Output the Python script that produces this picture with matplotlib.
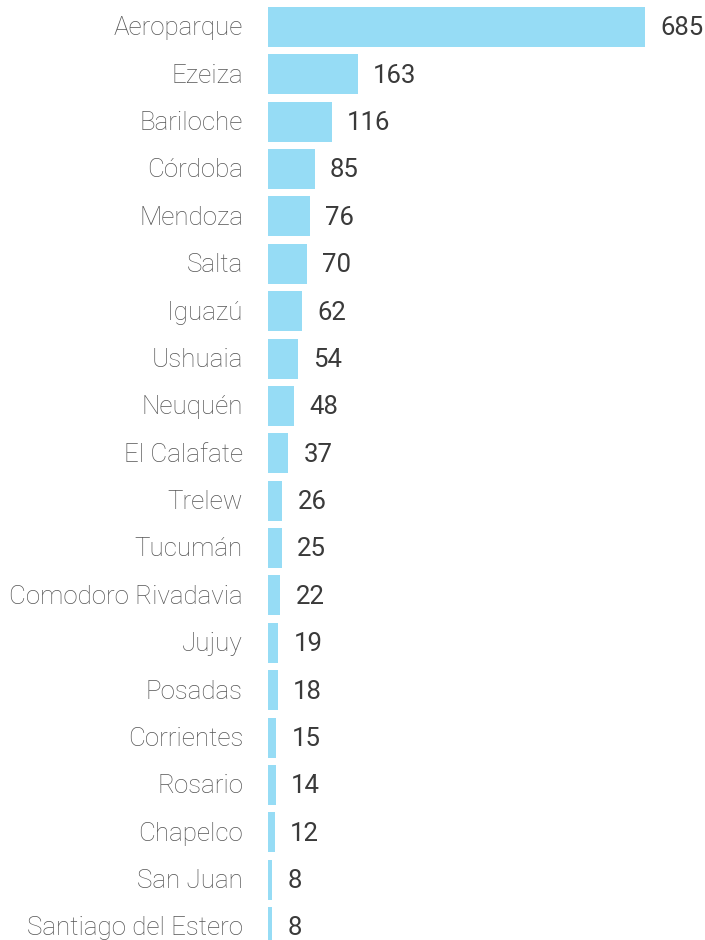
import matplotlib
matplotlib.use("Agg")
import matplotlib.pyplot as plt

airports = ["Aeroparque", "Ezeiza", "Bariloche", "Córdoba", "Mendoza", "Salta",
            "Iguazú", "Ushuaia", "Neuquén", "El Calafate", "Trelew", "Tucumán",
            "Comodoro Rivadavia", "Jujuy", "Posadas", "Corrientes", "Rosario",
            "Chapelco", "San Juan", "Santiago del Estero"]
counts = [685, 163, 116, 85, 76, 70, 62, 54, 48, 37, 26, 25, 22, 19, 18, 15, 14, 12, 8, 8]

plt.rcParams['font.family'] = ['Roboto', 'DejaVu Sans']

fig = plt.figure(figsize=(7.05, 9.4), dpi=100)
# axes starts where the bars start, labels sit to the left of it
ax = fig.add_axes([268 / 705, 0, 437 / 705, 1])

ypos = list(range(len(airports)))
ax.barh(ypos, counts, height=0.845, color='#96dcf5', edgecolor='none')

ax.set_xlim(0, 437 / 0.5505)
ax.set_ylim(19 + 13 / 47.37, -27 / 47.37)

for y, name, v in zip(ypos, airports, counts):
    ax.annotate(name, xy=(0, y), xytext=(-18, -1), textcoords='offset points',
                ha='right', va='center', fontsize=18.7, fontweight='light',
                color='#555555')
    ax.annotate(str(v), xy=(v, y), xytext=(11, -1), textcoords='offset points',
                ha='left', va='center', fontsize=18.5, color='#3a3a3a')

ax.axis('off')
fig.savefig('out.png', dpi=100)
